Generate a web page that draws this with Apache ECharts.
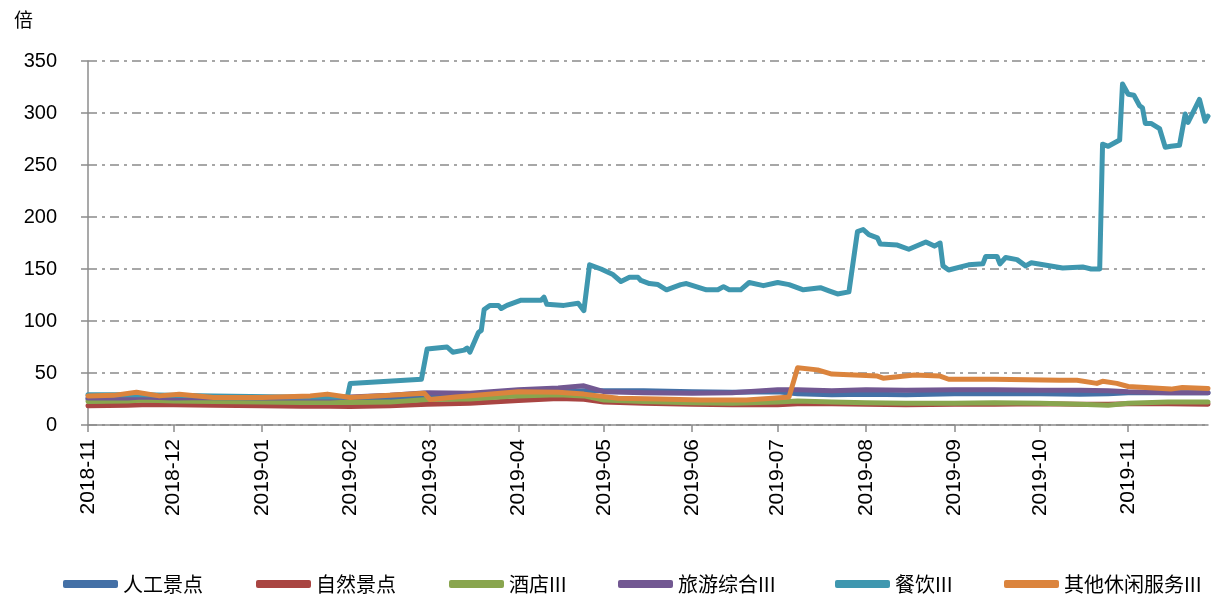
<!DOCTYPE html>
<html>
<head>
<meta charset="utf-8">
<title>PE</title>
<script src="https://cdn.jsdelivr.net/npm/echarts@6/dist/echarts.min.js"></script>
<style>
    html, body { margin: 0; padding: 0; background: #fff; }
    #chart { width: 1229px; height: 596px; }
</style>
</head>
<body>
<div id="chart"></div>
<script>
    // 各系列名称
    var seriesNames = ['人工景点', '自然景点', '酒店III', '旅游综合III', '餐饮III', '其他休闲服务III'];
    var seriesColors = ['#4470A6', '#A94542', '#89A54E', '#725892', '#3F97AF', '#DB843D'];

    // 低位四条线共用的取样日期
    var lowDates = ['2018-11-01','2018-11-15','2018-11-20','2018-12-01','2018-12-15','2019-01-01','2019-01-15','2019-01-25',
        '2019-02-01','2019-02-15','2019-02-28','2019-03-15','2019-04-01','2019-04-15','2019-04-24','2019-05-01',
        '2019-05-15','2019-06-01','2019-06-15','2019-07-01','2019-07-08','2019-07-20','2019-08-01','2019-08-15',
        '2019-09-01','2019-09-15','2019-10-01','2019-10-15','2019-10-25','2019-11-01','2019-11-15','2019-11-29'];
    var rengongValues = [25, 25, 26, 25, 25, 24.5, 24, 24.5, 24, 25, 27, 28, 31, 32, 33, 33,
        33, 32, 31.5, 32, 30, 29, 29.5, 29, 30, 30, 30, 29.5, 30, 31, 31, 31];
    var ziranValues = [18.4, 19, 19.5, 19.4, 19, 18.5, 18, 18, 17.7, 18.5, 20, 21, 23.5, 25.5, 24.8, 22,
        21, 20, 19.4, 19.4, 20.5, 20.5, 20, 19.5, 20, 20, 20.5, 20, 20, 20.5, 20.5, 20];
    var jiudianValues = [22.6, 23, 24, 23, 22.6, 22, 21.6, 21.6, 21.6, 22, 24.5, 25, 28, 29, 28, 24,
        22.6, 21.5, 21, 22, 23, 22, 21.5, 21, 21, 21.5, 21, 20, 19, 21, 22, 22];
    var lvyouValues = [26, 26, 27, 26, 26.5, 26, 26, 26, 27, 28.5, 31, 30.6, 34, 35.5, 37.7, 32,
        31, 30.6, 31, 34, 34, 33, 34, 33.5, 34, 34, 33.5, 33.5, 33, 32, 31, 31];

    // 餐饮III
    var canyinDates = ['2018-11-01','2018-11-20','2018-12-15','2019-01-10','2019-01-31','2019-02-01','2019-02-26','2019-02-28',
        '2019-03-07','2019-03-09','2019-03-13','2019-03-14','2019-03-15','2019-03-18','2019-03-19','2019-03-20',
        '2019-03-22','2019-03-25','2019-03-26','2019-03-28','2019-04-02','2019-04-09','2019-04-10','2019-04-11',
        '2019-04-17','2019-04-22','2019-04-24','2019-04-26','2019-04-30','2019-05-04','2019-05-07','2019-05-10',
        '2019-05-13','2019-05-14','2019-05-17','2019-05-20','2019-05-23','2019-05-28','2019-05-30','2019-06-06',
        '2019-06-10','2019-06-12','2019-06-14','2019-06-18','2019-06-21','2019-06-26','2019-07-01','2019-07-05',
        '2019-07-10','2019-07-16','2019-07-19','2019-07-22','2019-07-26','2019-07-29','2019-07-31','2019-08-02',
        '2019-08-05','2019-08-06','2019-08-12','2019-08-16','2019-08-22','2019-08-25','2019-08-27','2019-08-28',
        '2019-08-30','2019-09-06','2019-09-11','2019-09-12','2019-09-16','2019-09-17','2019-09-19','2019-09-23',
        '2019-09-26','2019-09-28','2019-10-09','2019-10-16','2019-10-19','2019-10-22','2019-10-23','2019-10-25',
        '2019-10-29','2019-10-30','2019-11-01','2019-11-03','2019-11-05','2019-11-06','2019-11-07','2019-11-09',
        '2019-11-12','2019-11-14','2019-11-16','2019-11-19','2019-11-21','2019-11-22','2019-11-26','2019-11-28',
        '2019-11-29'];
    var canyinValues = [29, 29, 28, 27, 27, 40, 44, 73,
        75, 70, 72, 74, 70, 89, 91, 111,
        115, 115, 112, 115, 120, 120, 123, 116,
        115, 117, 110, 154, 150, 145, 138, 142,
        142, 139, 136, 135, 130, 135, 136, 130,
        130, 133, 130, 130, 137, 134, 137, 135,
        130, 132, 129, 126, 128, 186, 188, 183,
        180, 174, 173, 169, 176, 172, 175, 153,
        149, 154, 155, 162, 162, 155, 161, 159,
        153, 156, 151, 152, 150, 150, 270, 268,
        274, 328, 318, 317, 307, 305, 290, 290,
        285, 267, 268, 269, 299, 291, 313, 292,
        297];

    // 其他休闲服务III
    var qitaDates = ['2018-11-01','2018-11-10','2018-11-18','2018-11-26','2018-12-03','2018-12-15','2019-01-01','2019-01-18',
        '2019-01-24','2019-02-01','2019-02-15','2019-02-27','2019-03-01','2019-03-10','2019-04-01','2019-04-15',
        '2019-04-24','2019-05-06','2019-05-20','2019-06-04','2019-06-20','2019-07-03','2019-07-05','2019-07-08',
        '2019-07-15','2019-07-20','2019-07-28','2019-08-05','2019-08-07','2019-08-18','2019-08-27','2019-08-30',
        '2019-09-15','2019-10-08','2019-10-14','2019-10-21','2019-10-23','2019-10-28','2019-11-01','2019-11-10',
        '2019-11-16','2019-11-20','2019-11-29'];
    var qitaValues = [28, 28.5, 31.5, 28, 29.5, 26.5, 26.5, 28,
        29.7, 26.5, 28.5, 30.6, 24.5, 27, 32, 31.6,
        29.7, 25.8, 25, 24, 24, 26.5, 27, 55,
        53, 49, 48, 47, 45, 48, 47, 44,
        44, 43, 43, 40, 42, 40, 37, 35.5,
        34.5, 36, 35];

    var yTicks = [0, 50, 100, 150, 200, 250, 300, 350];

    // x轴按自然日
    var lastDay = '2019-11-29';
    function pad(n) { return n < 10 ? '0' + n : '' + n; }
    var days = [];
    var d = new Date(Date.UTC(2018, 10, 1));
    while (true) {
        var s = d.getUTCFullYear() + '-' + pad(d.getUTCMonth() + 1) + '-' + pad(d.getUTCDate());
        days.push(s);
        if (s === lastDay) break;
        d.setUTCDate(d.getUTCDate() + 1);
    }

    function pairs(dates, values) {
        return dates.map(function (t, i) { return [t, values[i]]; });
    }
    var seriesData = [
        pairs(lowDates, rengongValues),
        pairs(lowDates, ziranValues),
        pairs(lowDates, jiudianValues),
        pairs(lowDates, lvyouValues),
        pairs(canyinDates, canyinValues),
        pairs(qitaDates, qitaValues)
    ];

    var isMonthStart = function (index, value) { return value.slice(8) === '01'; };

    var legendLeft = [58, 251, 444, 613, 830, 999];
    var legends = seriesNames.map(function (name, i) {
        return {
            data: [name],
            left: legendLeft[i],
            top: 569,
            icon: 'roundRect',
            itemWidth: 55,
            itemHeight: 8,
            itemGap: 6,
            textStyle: { fontFamily: 'Noto Sans CJK SC', fontSize: 20, color: '#000' }
        };
    });

    var chart = echarts.init(document.getElementById('chart'));
    chart.setOption({
        animation: false,
        title: {
            text: '倍',
            left: 9,
            top: 5,
            textStyle: { fontFamily: 'Noto Sans CJK SC', fontSize: 19, fontWeight: 'normal', color: '#000' }
        },
        legend: legends,
        grid: { left: 88, right: 21, top: 61, bottom: 171 },
        xAxis: {
            type: 'category',
            data: days,
            boundaryGap: false,
            axisLine: { lineStyle: { color: '#8c8c8c', width: 1.5 } },
            axisTick: { interval: isMonthStart, length: 7, lineStyle: { color: '#8c8c8c', width: 1.5 } },
            axisLabel: {
                interval: isMonthStart,
                rotate: 90,
                margin: 14,
                fontFamily: 'Liberation Sans',
                fontSize: 21,
                color: '#000',
                formatter: function (v) { return v.slice(0, 7); }
            },
            splitLine: { show: false }
        },
        yAxis: {
            type: 'value',
            min: yTicks[0],
            max: yTicks[yTicks.length - 1],
            interval: 50,
            axisLine: { show: true, lineStyle: { color: '#8c8c8c', width: 1.5 } },
            axisTick: { show: true, length: 7, lineStyle: { color: '#8c8c8c', width: 1.5 } },
            axisLabel: { margin: 31, fontFamily: 'Liberation Sans', fontSize: 20, color: '#000' },
            splitLine: { lineStyle: { color: '#8a8a8a', width: 1.5, type: [9, 5, 3, 5] } }
        },
        series: seriesNames.map(function (name, i) {
            return {
                name: name,
                type: 'line',
                data: seriesData[i],
                symbol: 'none',
                color: seriesColors[i],
                lineStyle: { width: 5, color: seriesColors[i], join: 'round', cap: 'round' },
                z: 2 + i
            };
        })
    });
</script>
</body>
</html>
